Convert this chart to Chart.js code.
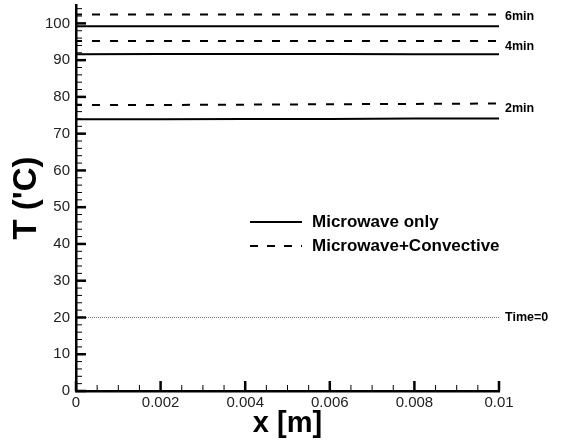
<!DOCTYPE html>
<html>
<head>
<meta charset="utf-8">
<script src="https://cdn.jsdelivr.net/npm/chart.js@4/dist/chart.umd.min.js"></script>
<style>
  html, body { margin: 0; padding: 0; background: #fff; }
  #wrap { width: 562px; height: 447px; }
</style>
</head>
<body>
<div id="wrap"><canvas id="myChart" width="562" height="447"></canvas></div>
<script>
// datos
const xPos = [0, 0.002, 0.004, 0.006, 0.008, 0.01];
const mw2 = [73.9, 73.9, 74.0, 74.0, 74.1, 74.1];
const mwc2 = [77.8, 77.8, 77.9, 78.0, 78.1, 78.2];
const mw4 = [91.6, 91.7, 91.7, 91.7, 91.6, 91.6];
const mwc4 = [95.2, 95.2, 95.2, 95.2, 95.2, 95.2];
const mw6 = [99.2, 99.2, 99.2, 99.2, 99.2, 99.2];
const mwc6 = [102.4, 102.4, 102.4, 102.4, 102.4, 102.4];
const time0 = [20, 20, 20, 20, 20, 20];
const yTicks = [0, 10, 20, 30, 40, 50, 60, 70, 80, 90, 100];
const xTicks = [0, 0.002, 0.004, 0.006, 0.008, 0.01];
const curveLabels = ['2min', '4min', '6min', 'Time=0'];
const labelAt = [76.9, 93.6, 101.8, 20];
const legendLabels = ['Microwave only', 'Microwave+Convective'];

const FONT = '"Liberation Sans", Arial, sans-serif';
const pts = arr => arr.map((v, i) => ({ x: xPos[i], y: v }));
const solid = (d) => ({ data: pts(d), borderColor: '#000', borderWidth: 2, pointRadius: 0, fill: false });
const dashed = (d) => ({ data: pts(d), borderColor: '#000', borderWidth: 2, borderDash: [8, 10], borderDashOffset: 2, pointRadius: 0, fill: false });

// ticks hacia dentro + etiquetas + leyenda
const extras = {
  id: 'extras',
  afterDraw(chart) {
    const c = chart.ctx, xs = chart.scales.x, ys = chart.scales.y;
    const x0 = xs.left, y0 = ys.bottom;
    c.save();
    c.strokeStyle = '#000';
    // ticks eje y
    for (let v = 0; v <= 104; v += 2) {
      const py = ys.getPixelForValue(v);
      const major = v % 10 === 0;
      c.lineWidth = major ? 2.5 : 1;
      c.beginPath(); c.moveTo(x0, py); c.lineTo(x0 + (major ? 10 : 6), py); c.stroke();
    }
    // ticks eje x
    for (let i = 0; i <= 20; i++) {
      const v = i * 0.0005;
      const px = xs.getPixelForValue(v);
      const major = i % 4 === 0;
      c.lineWidth = major ? 2.5 : 1;
      c.beginPath(); c.moveTo(px, y0); c.lineTo(px, y0 - (major ? 10 : 6)); c.stroke();
    }
    // etiquetas de curvas
    c.fillStyle = '#000';
    c.font = 'bold 12.5px ' + FONT;
    c.textBaseline = 'middle';
    const xr = xs.getPixelForValue(0.01) + 6;
    curveLabels.forEach((t, i) => c.fillText(t, xr, ys.getPixelForValue(labelAt[i])));
    // leyenda
    c.font = 'bold 17px ' + FONT;
    c.lineWidth = 2;
    c.beginPath(); c.moveTo(250, 222); c.lineTo(302, 222); c.stroke();
    c.setLineDash([8, 9]);
    c.beginPath(); c.moveTo(250, 246); c.lineTo(302, 246); c.stroke();
    c.setLineDash([]);
    c.fillText(legendLabels[0], 312, 222);
    c.fillText(legendLabels[1], 312, 246);
    c.restore();
  }
};

const ctx = document.getElementById('myChart').getContext('2d');
const myChart = new Chart(ctx, {
  type: 'line',
  data: {
    datasets: [
      solid(mw2), dashed(mwc2),
      solid(mw4), dashed(mwc4),
      solid(mw6), dashed(mwc6),
      { data: pts(time0), borderColor: '#777', borderWidth: 1, borderDash: [1, 1], pointRadius: 0, fill: false }
    ]
  },
  options: {
    responsive: false,
    animation: false,
    layout: { padding: { top: 5, right: 63, left: 0, bottom: 0 } },
    plugins: { legend: { display: false }, tooltip: { enabled: false } },
    scales: {
      x: {
        type: 'linear', min: 0, max: 0.01,
        grid: { display: false, drawTicks: false },
        border: { display: true, color: '#000', width: 2.5 },
        afterBuildTicks: s => { s.ticks = xTicks.map(v => ({ value: v })); },
        afterFit: s => { s.height = 56; s.paddingLeft = 0; s.paddingRight = 0; },
        ticks: {
          color: '#222', padding: 3, maxRotation: 0,
          font: { family: FONT, size: 15 },
          callback: v => String(+v.toFixed(3))
        },
        title: {
          display: true, text: 'x [m]', color: '#000', padding: { top: 0, bottom: 6 },
          font: { family: FONT, size: 29, weight: 'bold' }
        }
      },
      y: {
        min: 0, max: 105,
        grid: { display: false, drawTicks: false },
        border: { display: true, color: '#000', width: 2.5 },
        afterBuildTicks: s => { s.ticks = yTicks.map(v => ({ value: v })); },
        afterFit: s => { s.width = 76; s.paddingTop = 0; s.paddingBottom = 0; },
        ticks: {
          color: '#222', padding: 6,
          font: { family: FONT, size: 15 }
        },
        title: {
          display: true, text: "T ('C)", color: '#000', padding: { top: 7, bottom: 0 },
          font: { family: FONT, size: 33, weight: 'bold' }
        }
      }
    }
  },
  plugins: [extras]
});
</script>
</body>
</html>
